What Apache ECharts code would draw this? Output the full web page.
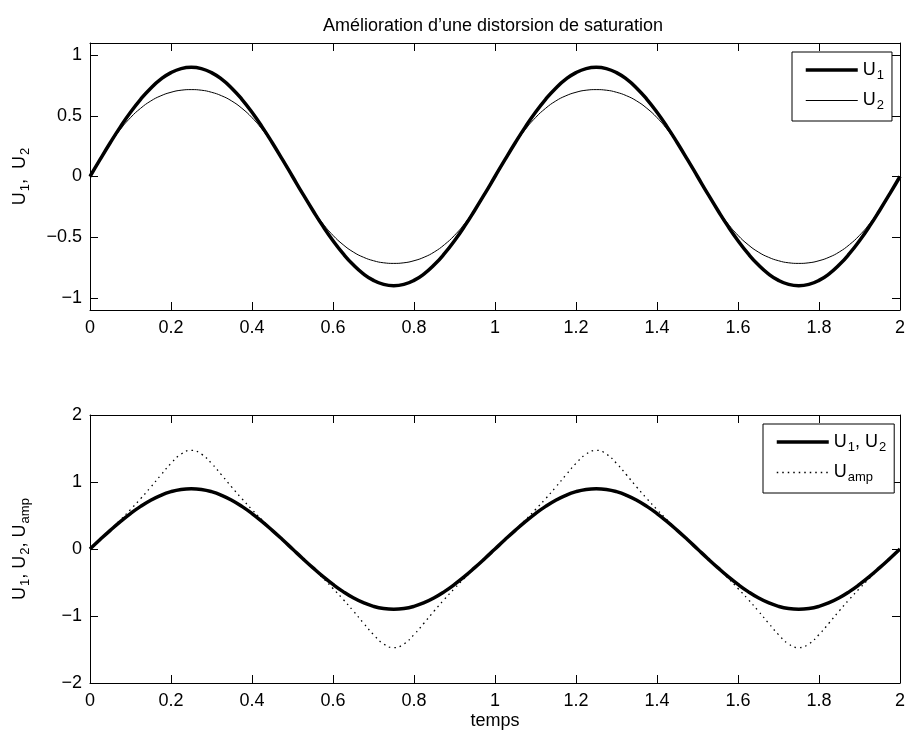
<!DOCTYPE html>
<html>
<head>
<meta charset="utf-8">
<script src="https://cdn.jsdelivr.net/npm/echarts@6/dist/echarts.min.js"></script>
<style>html,body{margin:0;padding:0;background:#fff}#c{width:908px;height:733px}</style>
</head>
<body>
<div id="c"></div>
<script>
var times = [0,0.025,0.05,0.075,0.1,0.125,0.15,0.175,0.2,0.225,0.25,0.275,0.3,0.325,0.35,0.375,0.4,0.425,0.45,0.475,0.5,0.525,0.55,0.575,0.6,0.625,0.65,0.675,0.7,0.725,0.75,0.775,0.8,0.825,0.85,0.875,0.9,0.925,0.95,0.975,1,1.025,1.05,1.075,1.1,1.125,1.15,1.175,1.2,1.225,1.25,1.275,1.3,1.325,1.35,1.375,1.4,1.425,1.45,1.475,1.5,1.525,1.55,1.575,1.6,1.625,1.65,1.675,1.7,1.725,1.75,1.775,1.8,1.825,1.85,1.875,1.9,1.925,1.95,1.975,2];
var u1 = [0,0.141,0.278,0.409,0.529,0.636,0.728,0.802,0.856,0.889,0.9,0.889,0.856,0.802,0.728,0.636,0.529,0.409,0.278,0.141,0,-0.141,-0.278,-0.409,-0.529,-0.636,-0.728,-0.802,-0.856,-0.889,-0.9,-0.889,-0.856,-0.802,-0.728,-0.636,-0.529,-0.409,-0.278,-0.141,
0,0.141,0.278,0.409,0.529,0.636,0.728,0.802,0.856,0.889,0.9,0.889,0.856,0.802,0.728,0.636,0.529,0.409,0.278,0.141,0,-0.141,-0.278,-0.409,-0.529,-0.636,-0.728,-0.802,-0.856,-0.889,-0.9,-0.889,-0.856,-0.802,-0.728,-0.636,-0.529,-0.409,-0.278,-0.141,0];
var u2 = [0,0.140,0.271,0.388,0.485,0.562,0.622,0.665,0.694,0.711,0.716,0.711,0.694,0.665,0.622,0.562,0.485,0.388,0.271,0.140,0,-0.140,-0.271,-0.388,-0.485,-0.562,-0.622,-0.665,-0.694,-0.711,-0.716,-0.711,-0.694,-0.665,-0.622,-0.562,-0.485,-0.388,-0.271,-0.140,
0,0.140,0.271,0.388,0.485,0.562,0.622,0.665,0.694,0.711,0.716,0.711,0.694,0.665,0.622,0.562,0.485,0.388,0.271,0.140,0,-0.140,-0.271,-0.388,-0.485,-0.562,-0.622,-0.665,-0.694,-0.711,-0.716,-0.711,-0.694,-0.665,-0.622,-0.562,-0.485,-0.388,-0.271,-0.140,0];
var uamp = [0,0.142,0.286,0.434,0.589,0.751,0.924,1.104,1.278,1.417,1.472,1.417,1.278,1.104,0.924,0.751,0.589,0.434,0.286,0.142,0,-0.142,-0.286,-0.434,-0.589,-0.751,-0.924,-1.104,-1.278,-1.417,-1.472,-1.417,-1.278,-1.104,-0.924,-0.751,-0.589,-0.434,-0.286,-0.142,
0,0.142,0.286,0.434,0.589,0.751,0.924,1.104,1.278,1.417,1.472,1.417,1.278,1.104,0.924,0.751,0.589,0.434,0.286,0.142,0,-0.142,-0.286,-0.434,-0.589,-0.751,-0.924,-1.104,-1.278,-1.417,-1.472,-1.417,-1.278,-1.104,-0.924,-0.751,-0.589,-0.434,-0.286,-0.142,0];
var topYTicks = [-1,-0.5,0,0.5,1];
var titleText = 'Amélioration d\u2019une distorsion de saturation';
var xLabel = 'temps';

var FONT = 'Liberation Sans, Arial, Helvetica, sans-serif';
var FS = 18;
var THICK = 3.5, THIN = 1, DOT = [1.5, 4];
function pairs(ys){ return times.map(function(t,i){ return [t, ys[i]]; }); }
function minusFmt(v){ return String(v).replace('-', '\u2212'); }
var sub = {fontSize: 13, fontFamily: FONT, color:'#000', padding:[10,0,0,1]};
var rich = {s: sub};

function xAx(grid, pos, labels, name){
  return {type:'value', gridIndex:grid, position:pos, min:0, max:2, interval:0.2,
    axisLine:{show:true, onZero:false, lineStyle:{color:'#000', width:1}},
    axisTick:{show:true, inside:true, length:8, lineStyle:{color:'#000'}},
    axisLabel:{show:labels, color:'#000', fontSize:FS, fontFamily:FONT, margin:9},
    splitLine:{show:false},
    name: name||'', nameLocation:'middle', nameGap:29,
    nameTextStyle:{color:'#000', fontSize:FS, fontFamily:FONT}};
}
function yAx(grid, pos, labels, min, max, custom, interval, name, gap){
  var a = {type:'value', gridIndex:grid, position:pos, min:min, max:max,
    axisLine:{show:true, onZero:false, lineStyle:{color:'#000', width:1}},
    axisTick:{show:true, inside:true, length:8, lineStyle:{color:'#000'}},
    axisLabel:{show:labels, color:'#000', fontSize:FS, fontFamily:FONT, margin:8, formatter:minusFmt},
    splitLine:{show:false},
    name: name||'', nameLocation:'middle', nameRotate:90, nameGap:gap||50,
    nameTextStyle:{color:'#000', fontSize:FS, fontFamily:FONT, rich:rich}};
  if (custom) { a.axisTick.customValues = custom; a.axisLabel.customValues = custom; }
  else { a.interval = interval; }
  return a;
}
var legendCommon = {orient:'vertical', padding:[9,8,9,12], itemWidth:52, itemHeight:14, itemGap:10,
  borderColor:'#000', borderWidth:1, borderRadius:0, backgroundColor:'#fff',
  itemStyle:{opacity:0, borderWidth:0}};

var chart = echarts.init(document.getElementById('c'), null, {renderer:'canvas'});
chart.setOption({
  animation:false,
  backgroundColor:'#fff',
  title:{text:titleText, left:488, top:12, textAlign:'center',
    textStyle:{fontSize:FS, fontWeight:'normal', color:'#000', fontFamily:FONT}},
  grid:[{left:90, top:43, width:810, height:267, outerBoundsMode:'none', containLabel:false},
        {left:90, top:415, width:810, height:268, outerBoundsMode:'none', containLabel:false}],
  xAxis:[xAx(0,'bottom',true), xAx(0,'top',false), xAx(1,'bottom',true,xLabel), xAx(1,'top',false)],
  yAxis:[yAx(0,'left',true,-1.1,1.1,topYTicks,null,'U{s|1},  U{s|2}',58), yAx(0,'right',false,-1.1,1.1,topYTicks),
         yAx(1,'left',true,-2,2,null,1,'U{s|1}, U{s|2}, U{s|amp}',58), yAx(1,'right',false,-2,2,null,1)],
  legend:[
    Object.assign({}, legendCommon, {left:792, top:52,
      data:[{name:'U1', lineStyle:{width:THICK, color:'#000'}}, {name:'U2', lineStyle:{width:THIN, color:'#000'}}],
      formatter:function(n){ return n==='U1' ? 'U{s|1}' : 'U{s|2}'; },
      textStyle:{fontSize:FS, fontFamily:FONT, color:'#000', rich:rich}}),
    Object.assign({}, legendCommon, {left:763, top:424,
      data:[{name:'U1, U2', lineStyle:{width:THICK, color:'#000'}}, {name:'Uamp', lineStyle:{width:1.3, type:DOT, color:'#000'}}],
      formatter:function(n){ return n==='Uamp' ? 'U{s|amp}' : 'U{s|1}, U{s|2}'; },
      textStyle:{fontSize:FS, fontFamily:FONT, color:'#000', rich:rich}})
  ],
  series:[
    {name:'U1', type:'line', xAxisIndex:0, yAxisIndex:0, data:pairs(u1), smooth:true, symbol:'none', lineStyle:{color:'#000', width:THICK}, itemStyle:{color:'#000'}},
    {name:'U2', type:'line', xAxisIndex:0, yAxisIndex:0, data:pairs(u2), smooth:true, symbol:'none', lineStyle:{color:'#000', width:THIN}, itemStyle:{color:'#000'}},
    {name:'Uamp', type:'line', xAxisIndex:2, yAxisIndex:2, data:pairs(uamp), smooth:true, symbol:'none', lineStyle:{color:'#000', width:1.3, type:DOT}, itemStyle:{color:'#000'}},
    {name:'U1, U2', type:'line', xAxisIndex:2, yAxisIndex:2, data:pairs(u1), smooth:true, symbol:'none', lineStyle:{color:'#000', width:THICK}, itemStyle:{color:'#000'}}
  ]
});
</script>
</body>
</html>
